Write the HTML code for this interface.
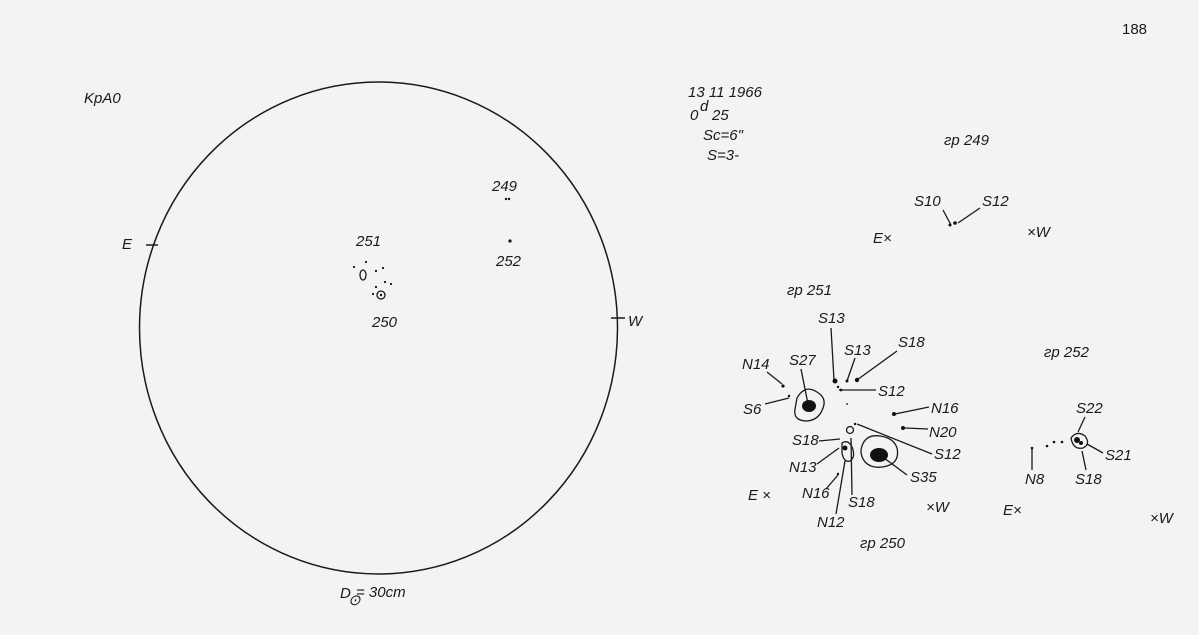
<!DOCTYPE html>
<html><head><meta charset="utf-8"><style>
html,body{margin:0;padding:0;background:#f3f3f1;}
svg{display:block}
text{font-family:"Liberation Sans",sans-serif;font-style:italic;font-size:15px;fill:#1a1a1a}
</style></head><body>
<svg width="1199" height="635" viewBox="0 0 1199 635" xmlns="http://www.w3.org/2000/svg">
<rect width="1199" height="635" fill="#f3f3f1"/>
<g stroke="#1a1a1a" fill="none" stroke-width="1.5">
<ellipse cx="378.5" cy="328" rx="239" ry="246"/>
<line x1="146" y1="245" x2="158" y2="245"/>
<line x1="611" y1="318" x2="625" y2="318"/>
</g>
<text x="1122" y="34" font-size="22" style="font-style:normal">188</text>
<text x="84" y="103">KpA0</text>
<text x="122" y="249">E</text>
<text x="628" y="326">W</text>
<text x="492" y="191">249</text>
<text x="356" y="246">251</text>
<text x="496" y="266">252</text>
<text x="372" y="327">250</text>
<text x="340" y="598">D</text><text x="348" y="605" font-size="10">⊙</text><text x="356" y="597">= 30cm</text>
<text x="688" y="97">13 11 1966</text>
<text x="690" y="120">0</text><text x="700" y="111" font-size="12">d</text><text x="712" y="120">25</text>
<text x="703" y="140">Sc=6"</text>
<text x="707" y="160">S=3-</text>
<text x="944" y="145">гр 249</text>
<text x="914" y="206">S10</text>
<text x="982" y="206">S12</text>
<text x="873" y="243">E×</text>
<text x="1027" y="237">×W</text>
<text x="787" y="295">гр 251</text>
<text x="1044" y="357">гр 252</text>
<g font-size="14">
<text x="818" y="323">S13</text>
<text x="844" y="355">S13</text>
<text x="898" y="347">S18</text>
<text x="742" y="369">N14</text>
<text x="789" y="365">S27</text>
<text x="878" y="396">S12</text>
<text x="743" y="414">S6</text>
<text x="931" y="413">N16</text>
<text x="929" y="437">N20</text>
<text x="792" y="445">S18</text>
<text x="934" y="459">S12</text>
<text x="789" y="472">N13</text>
<text x="910" y="482">S35</text>
<text x="802" y="498">N16</text>
<text x="848" y="507">S18</text>
<text x="817" y="527">N12</text>
<text x="748" y="500">E ×</text>
<text x="926" y="512">×W</text>
<text x="860" y="548">гр 250</text>
<text x="1076" y="413">S22</text>
<text x="1105" y="460">S21</text>
<text x="1075" y="484">S18</text>
<text x="1025" y="484">N8</text>
<text x="1003" y="515">E×</text>
<text x="1150" y="523">×W</text>
</g>
<g stroke="#1a1a1a" stroke-width="1.3" fill="none">
<line x1="943" y1="210" x2="951" y2="225"/>
<line x1="980" y1="208" x2="958" y2="223"/>
<line x1="831" y1="328" x2="834" y2="380"/>
<line x1="855" y1="358" x2="847" y2="381"/>
<line x1="897" y1="351" x2="857" y2="380"/>
<line x1="767" y1="372" x2="782" y2="384"/>
<line x1="801" y1="369" x2="808" y2="404"/>
<line x1="876" y1="390" x2="839" y2="390"/>
<line x1="765" y1="404" x2="789" y2="398"/>
<line x1="929" y1="407" x2="895" y2="414"/>
<line x1="928" y1="429" x2="905" y2="428"/>
<line x1="819" y1="441" x2="840" y2="439"/>
<line x1="932" y1="454" x2="857" y2="424"/>
<line x1="817" y1="464" x2="839" y2="448"/>
<line x1="907" y1="475" x2="880" y2="455"/>
<line x1="826" y1="489" x2="838" y2="475"/>
<line x1="852" y1="495" x2="851" y2="438"/>
<line x1="836" y1="514" x2="845" y2="461"/>
<line x1="1032" y1="470" x2="1032" y2="449"/>
<line x1="1085" y1="417" x2="1078" y2="432"/>
<line x1="1103" y1="453" x2="1087" y2="444"/>
<line x1="1086" y1="470" x2="1082" y2="451"/>
<path d="M797,398 q8,-14 20,-6 q10,6 6,16 q-4,12 -16,13 q-14,0 -12,-12 z"/>
<path d="M862,446 q4,-12 18,-10 q14,2 17,12 q3,14 -10,18 q-14,4 -22,-4 q-6,-8 -3,-16 z"/>
<path d="M842,443 q6,-4 10,4 q4,10 -2,14 q-6,2 -8,-8 z"/>
<circle cx="850" cy="430" r="3.5"/>
<path d="M1071,438 q6,-8 14,-2 q6,8 -2,12 q-10,2 -12,-10 z"/>
<ellipse cx="363" cy="275" rx="3" ry="5"/>
<circle cx="381" cy="295" r="4"/>
</g>
<g fill="#111">
<ellipse cx="809" cy="406" rx="7" ry="6"/>
<ellipse cx="879" cy="455" rx="9" ry="7"/>
<circle cx="845" cy="448" r="2.5"/>
<circle cx="1077" cy="440" r="3"/>
<circle cx="1081" cy="443" r="2"/>
<circle cx="955" cy="223" r="1.8"/><circle cx="950" cy="225" r="1.5"/>
<circle cx="835" cy="381" r="2.5"/><circle cx="847" cy="381" r="1.5"/><circle cx="857" cy="380" r="2.2"/>
<circle cx="838" cy="387" r="1.2"/><circle cx="841" cy="390" r="1.4"/>
<circle cx="783" cy="386" r="1.6"/><circle cx="789" cy="396" r="1.2"/>
<circle cx="847" cy="404" r="0.9"/>
<circle cx="894" cy="414" r="2"/><circle cx="903" cy="428" r="2"/>
<circle cx="855" cy="424" r="1.2"/>
<circle cx="838" cy="474" r="1.2"/>
<circle cx="1032" cy="448" r="1.3"/><circle cx="1047" cy="446" r="1.3"/><circle cx="1054" cy="442" r="1.3"/><circle cx="1062" cy="442" r="1.3"/>
<circle cx="506" cy="199" r="1.2"/><circle cx="509" cy="199" r="1.2"/>
<circle cx="510" cy="241" r="1.6"/>
<circle cx="354" cy="267" r="1.1"/><circle cx="366" cy="262" r="1.1"/><circle cx="376" cy="271" r="1.1"/><circle cx="383" cy="268" r="1.1"/>
<circle cx="385" cy="282" r="1.1"/><circle cx="391" cy="284" r="1.1"/><circle cx="376" cy="287" r="1.1"/><circle cx="373" cy="294" r="1.1"/><circle cx="381" cy="295" r="1.2"/>
</g>
</svg>
</body></html>
